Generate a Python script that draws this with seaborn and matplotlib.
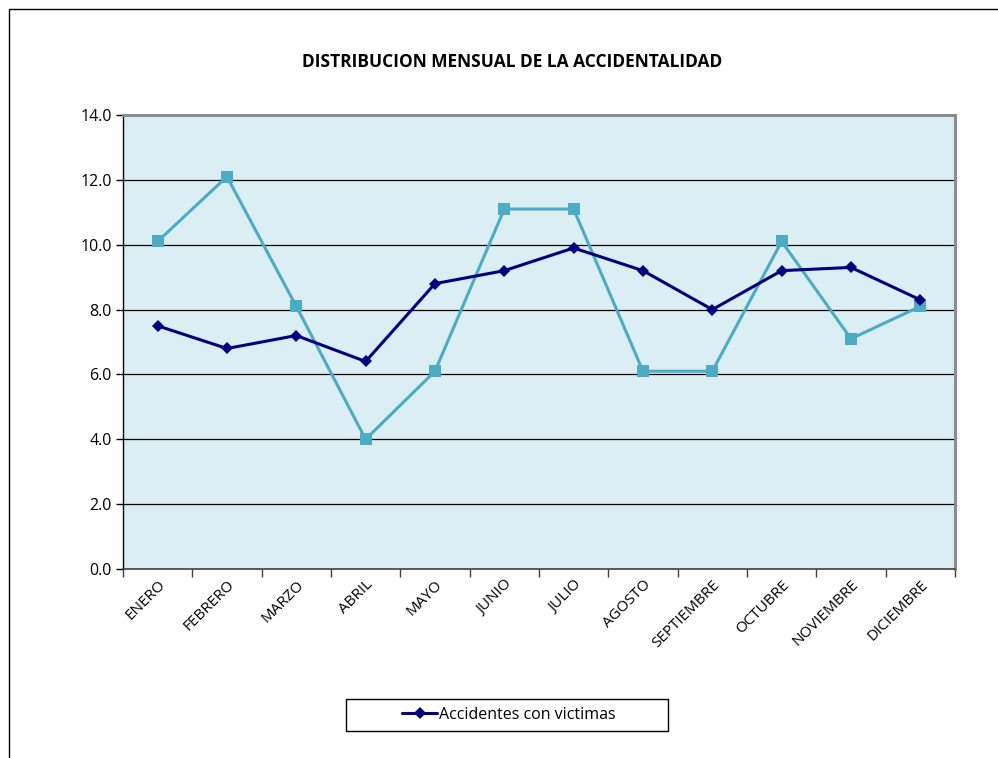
# =====================================================
# DISTRIBUCION MENSUAL DE LA ACCIDENTALIDAD
# =====================================================

import pandas as pd
import numpy as np
import matplotlib.pyplot as plt
import seaborn as sns
from matplotlib.lines import Line2D
from matplotlib.patches import Rectangle

meses = ["ENERO", "FEBRERO", "MARZO", "ABRIL", "MAYO", "JUNIO",
         "JULIO", "AGOSTO", "SEPTIEMBRE", "OCTUBRE", "NOVIEMBRE", "DICIEMBRE"]
accidentes_victimas = [7.5, 6.8, 7.2, 6.4, 8.8, 9.2, 9.9, 9.2, 8.0, 9.2, 9.3, 8.3]
serie_2 = [10.1, 12.1, 8.1, 4.0, 6.1, 11.1, 11.1, 6.1, 6.1, 10.1, 7.1, 8.1]
y_ticks = [0, 2, 4, 6, 8, 10, 12, 14]

df = pd.DataFrame({
    "pos": np.arange(len(meses)),
    "mes": meses,
    "victimas": accidentes_victimas,
    "serie2": serie_2,
})

sns.set_theme(style="white")
plt.rcParams["font.family"] = ["Open Sans", "DejaVu Sans"]
plt.rcParams["text.color"] = "black"
plt.rcParams["xtick.color"] = "black"
plt.rcParams["ytick.color"] = "black"

fig = plt.figure(figsize=(9.98, 7.58), dpi=100)
ax = fig.add_axes([0.1232, 0.2493, 0.8337, 0.599])

# borde exterior del grafico
fig.patches.append(Rectangle((9 / 998, -0.1), 1.2, 1 - 9 / 758 + 0.1,
                             transform=fig.transFigure, fill=False,
                             edgecolor="black", linewidth=1.0))

ax.set_facecolor("#DAEEF3")

sns.lineplot(data=df, x="pos", y="serie2", ax=ax, color="#4BACC6",
             marker="s", markersize=8, markeredgewidth=0, linewidth=2.2)
sns.lineplot(data=df, x="pos", y="victimas", ax=ax, color="#000080",
             marker="D", markersize=6.5, markeredgewidth=0, linewidth=2.2)

ax.set_xlim(-0.5, len(meses) - 0.5)
ax.set_ylim(0, 14)

ax.set_yticks(y_ticks)
ax.set_yticklabels([f"{v:.1f}" for v in y_ticks], fontsize=11.5)
for v in y_ticks[1:-1]:
    ax.axhline(v, color="black", linewidth=0.9, zorder=0.5)

ax.set_xticks(np.arange(-0.5, len(meses)), [""] * (len(meses) + 1))
ax.set_xticks(np.arange(len(meses)), meses, minor=True)
ax.tick_params(axis="x", which="major", direction="out", length=6,
               color="#404040", width=1, bottom=True)
ax.tick_params(axis="x", which="minor", length=0, pad=6)
ax.tick_params(axis="y", direction="out", length=5, color="black",
               width=1, left=True, pad=3)
for lbl in ax.get_xticklabels(minor=True):
    lbl.set_rotation(45)
    lbl.set_ha("right")
    lbl.set_va("top")
    lbl.set_rotation_mode("anchor")
    lbl.set_fontsize(11)

for side in ["top", "right"]:
    ax.spines[side].set_color("#8C8C8C")
    ax.spines[side].set_linewidth(2.2)
ax.spines["left"].set_color("black")
ax.spines["left"].set_linewidth(1.0)
ax.spines["bottom"].set_color("#404040")
ax.spines["bottom"].set_linewidth(1.2)

ax.set_xlabel("")
ax.set_ylabel("")

fig.text(512 / 998, 1 - 62 / 758, "DISTRIBUCION MENSUAL DE LA ACCIDENTALIDAD",
         ha="center", va="center", fontsize=12.5, fontweight="bold")

# leyenda (solo la serie principal)
fig.patches.append(Rectangle((346 / 998, 1 - 731 / 758), 322 / 998, 32 / 758,
                             transform=fig.transFigure, fill=False,
                             edgecolor="black", linewidth=1.0))
handle = Line2D([], [], color="#000080", marker="D", markersize=6.5,
                markeredgewidth=0, linewidth=2.2)
fig.legend([handle], ["Accidentes con victimas"],
           loc="center", bbox_to_anchor=(509 / 998, 1 - 715 / 758),
           frameon=False, fontsize=11.5,
           handlelength=2.2, handletextpad=0.1, borderaxespad=0)

fig.savefig("out.png", dpi=100)
